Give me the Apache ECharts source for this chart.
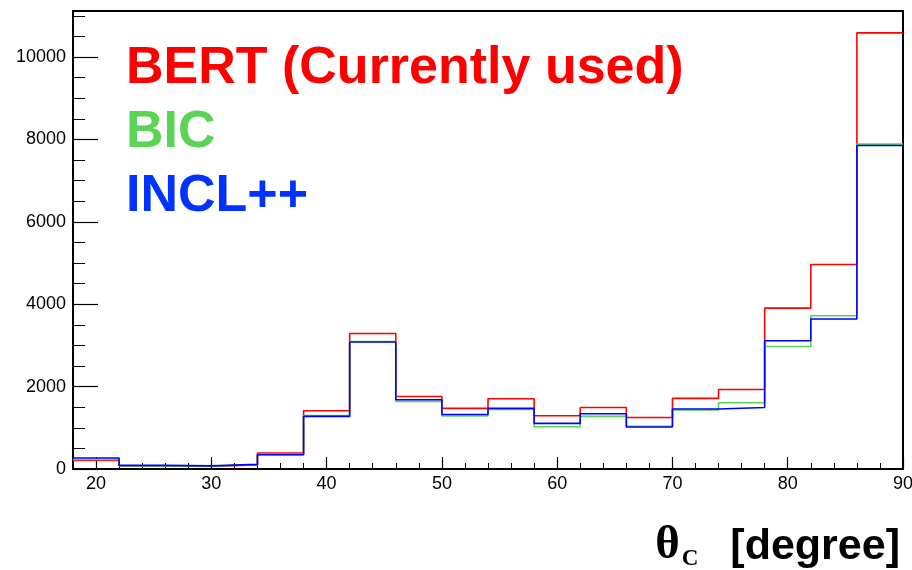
<!DOCTYPE html>
<html>
<head>
<meta charset="utf-8">
<script src="https://cdn.jsdelivr.net/npm/echarts@6/dist/echarts.min.js"></script>
<style>
  html, body { margin: 0; padding: 0; background: #fff; }
  #chart { width: 912px; height: 570px; }
</style>
</head>
<body>
<div id="chart"></div>
<script>
// Bin edges of the theta_C histogram (degrees), 4-degree bins
const binEdges = [18, 22, 26, 30, 34, 38, 42, 46, 50, 54, 58, 62, 66, 70, 74, 78, 82, 86, 90];

// Entries per bin for each hadronic model
const bert = [210, 80, 65, 100, 390, 1415, 3291, 1762, 1471, 1706, 1294, 1495, 1252, 1714, 1932, 3907, 4966, 10590];
const bic  = [230, 75, 70, 105, 350, 1300, 3097, 1641, 1286, 1447, 1027, 1277, 1034, 1432, 1609, 2976, 3721, 7888];
const incl = [267, 87, 75, 112, 347, 1277, 3082, 1682, 1325, 1471, 1107, 1342, 1019, 1456, 1495, 3114, 3641, 7854];

// Labelled tick values
const xTickValues = [20, 30, 40, 50, 60, 70, 80, 90];
const yTickValues = [0, 2000, 4000, 6000, 8000, 10000];

const seriesNames = ['BERT (Currently used)', 'BIC', 'INCL++'];
const lineColors = ['#ff0000', '#59d454', '#0000ff'];
const textColors = ['#ff0000', '#59d454', '#0033ff'];

// Turn per-bin contents into step points: each bin starts at its lower edge,
// with a closing point at the last upper edge.
function toSteps(values) {
  const pts = values.map((v, i) => [binEdges[i], v]);
  pts.push([binEdges[binEdges.length - 1], values[values.length - 1]]);
  return pts;
}

const FONT = '"Liberation Sans", Helvetica, Arial, sans-serif';
const SERIF = '"Liberation Serif", "DejaVu Serif", serif';
const chart = echarts.init(document.getElementById('chart'), null, { renderer: 'canvas' });

const axisLabelStyle = { color: '#000', fontFamily: FONT, fontSize: 18, formatter: v => String(v) };

chart.setOption({
  animation: false,
  backgroundColor: '#fff',
  grid: {
    left: 73, right: 9, top: 11, bottom: 101,
    outerBoundsMode: 'none',
    containLabel: false,
    show: true, borderColor: '#000', borderWidth: 2, backgroundColor: 'transparent'
  },
  legend: {
    orient: 'vertical',
    left: 116, top: 38,
    icon: 'none',
    itemWidth: 0, itemHeight: 0,
    itemGap: 12,
    selectedMode: false,
    textStyle: { fontFamily: FONT, fontSize: 52, fontWeight: 'bold' },
    data: seriesNames.map((n, i) => ({ name: n, textStyle: { color: textColors[i] } }))
  },
  xAxis: [
    {
      // minor ticks every 2 degrees
      type: 'value', min: 18, max: 90, interval: 2,
      position: 'bottom',
      axisLine: { show: true, lineStyle: { color: '#000', width: 2 } },
      axisTick: { show: true, inside: true, length: 6, lineStyle: { color: '#000', width: 1 } },
      axisLabel: { show: false },
      splitLine: { show: false }
    },
    {
      // major ticks, labels and the axis title
      type: 'value', min: 18, max: 90,
      position: 'bottom', offset: 0,
      axisLine: { show: false },
      axisTick: { show: true, inside: true, length: 12, customValues: xTickValues, lineStyle: { color: '#000', width: 1.2 } },
      axisLabel: Object.assign({ customValues: xTickValues, margin: 6 }, axisLabelStyle),
      splitLine: { show: false },
      name: '{th|θ}{sub|C}{txt|[degree]}',
      nameLocation: 'end',
      nameGap: 0,
      nameTextStyle: {
        align: 'right', verticalAlign: 'top', padding: [53, 3, 0, 0],
        rich: {
          th: { fontFamily: SERIF, fontWeight: 'bold', fontSize: 47, color: '#000', verticalAlign: 'bottom' },
          sub: { fontFamily: SERIF, fontWeight: 'bold', fontSize: 23, color: '#000', verticalAlign: 'bottom', padding: [0, 32, -2, 2] },
          txt: { fontFamily: FONT, fontWeight: 'bold', fontSize: 43, color: '#000', verticalAlign: 'bottom' }
        }
      }
    }
  ],
  yAxis: [
    {
      // minor ticks every 500 entries
      type: 'value', min: 0, max: 11120, interval: 500,
      position: 'left',
      axisLine: { show: true, lineStyle: { color: '#000', width: 2 } },
      axisTick: { show: true, inside: true, length: 12, lineStyle: { color: '#000', width: 1 } },
      axisLabel: { show: false },
      splitLine: { show: false }
    },
    {
      // major ticks and labels
      type: 'value', min: 0, max: 11120,
      position: 'left', offset: 0,
      axisLine: { show: false },
      axisTick: { show: true, inside: true, length: 25, customValues: yTickValues, lineStyle: { color: '#000', width: 1.2 } },
      axisLabel: Object.assign({ customValues: yTickValues, margin: 7 }, axisLabelStyle),
      splitLine: { show: false }
    }
  ],
  series: [bert, bic, incl].map((vals, i) => ({
    name: seriesNames[i],
    type: 'line',
    step: 'end',
    xAxisIndex: 0,
    yAxisIndex: 0,
    symbol: 'none',
    data: toSteps(vals),
    lineStyle: { color: lineColors[i], width: 1.6 },
    itemStyle: { color: lineColors[i] },
    z: 2 + i
  }))
});
</script>
</body>
</html>
